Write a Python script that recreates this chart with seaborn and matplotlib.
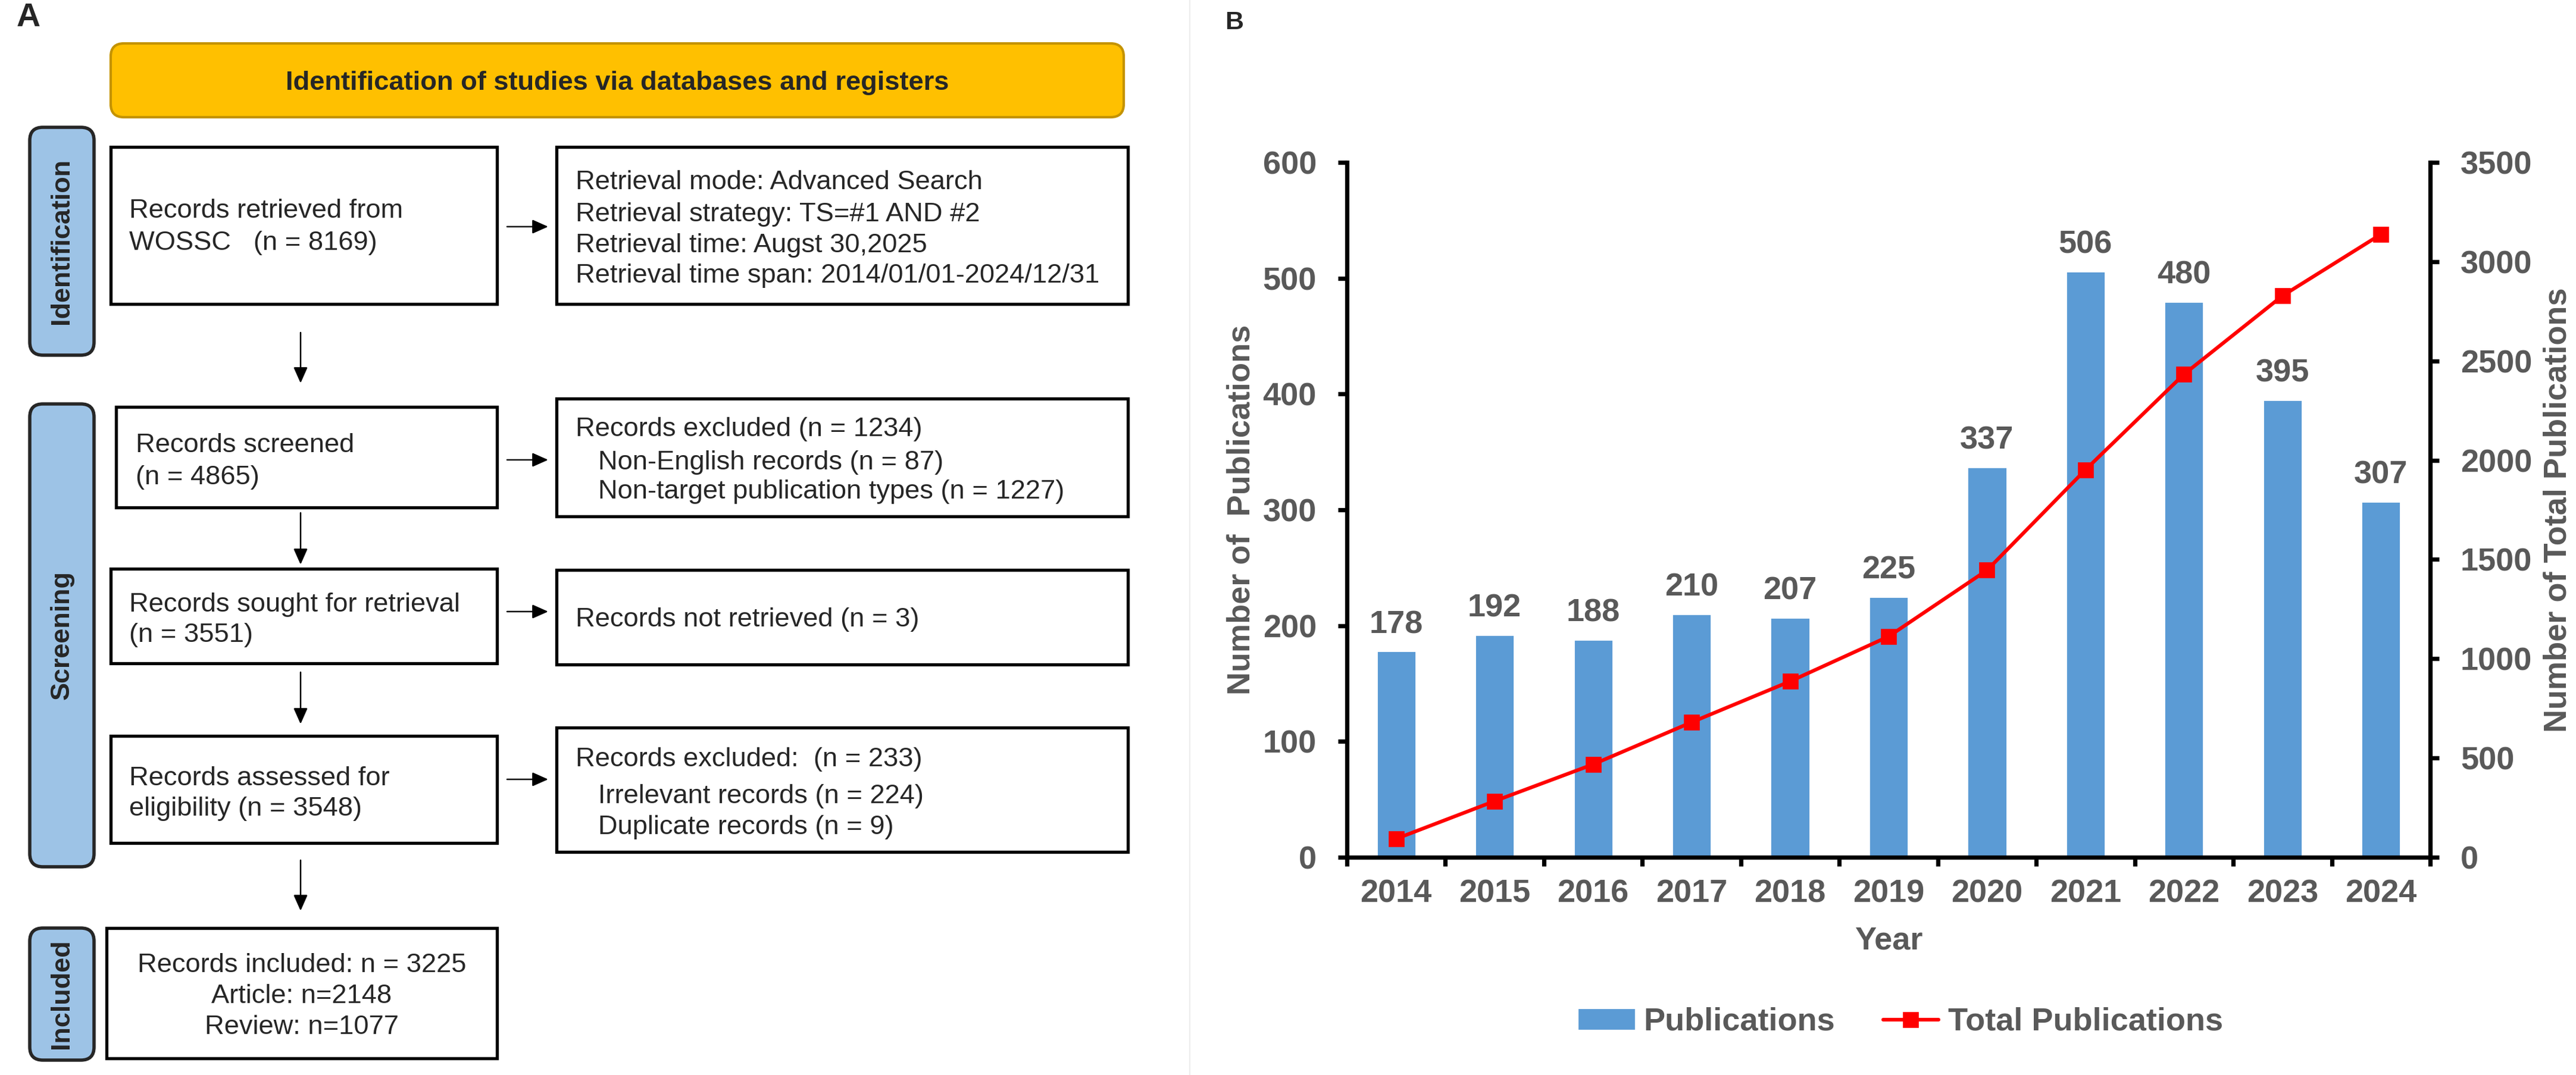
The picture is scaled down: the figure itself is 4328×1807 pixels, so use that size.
import numpy as np
import pandas as pd
import matplotlib
matplotlib.use("Agg")
import matplotlib.pyplot as plt
from matplotlib.patches import FancyBboxPatch, Rectangle, Patch
from matplotlib.lines import Line2D
import seaborn as sns

# ---- Panel B data ----
years = ["2014", "2015", "2016", "2017", "2018", "2019", "2020", "2021", "2022", "2023", "2024"]
publications = [178, 192, 188, 210, 207, 225, 337, 506, 480, 395, 307]
total_publications = [93, 283, 468, 680, 886, 1112, 1446, 1952, 2433, 2828, 3138]

# ---- Panel A text ----
header_text = "Identification of studies via databases and registers"
stage_labels = ["Identification", "Screening", "Included"]
left_box_lines = [
    ["Records retrieved from", "WOSSC   (n = 8169)"],
    ["Records screened", "(n = 4865)"],
    ["Records sought for retrieval", "(n = 3551)"],
    ["Records assessed for", "eligibility (n = 3548)"],
    ["Records included: n = 3225", "Article: n=2148", "Review: n=1077"],
]
right_box_lines = [
    ["Retrieval mode: Advanced Search", "Retrieval strategy: TS=#1 AND #2",
     "Retrieval time: Augst 30,2025", "Retrieval time span: 2014/01/01-2024/12/31"],
    ["Records excluded (n = 1234)", "   Non-English records (n = 87)",
     "   Non-target publication types (n = 1227)"],
    ["Records not retrieved (n = 3)"],
    ["Records excluded:  (n = 233)", "   Irrelevant records (n = 224)",
     "   Duplicate records (n = 9)"],
]

sns.set_style("white")
plt.rcParams["font.family"] = ["Liberation Sans", "DejaVu Sans"]

W, H = 4328, 1807
fig = plt.figure(figsize=(W / 200, H / 200), dpi=200)

# ---------------- Panel A: flow chart (pixel coordinates) ----------------
ax0 = fig.add_axes([0, 0, 1, 1])
ax0.set_xlim(0, W)
ax0.set_ylim(H, 0)
ax0.axis("off")

txt = 16.3
ax0.text(28, 30, "A", fontsize=20, fontweight="bold", va="center", ha="left")
ax0.text(2058, 38, "B", fontsize=15.5, fontweight="bold", va="center", ha="left")
ax0.plot([1999, 1999], [0, H], color="#EDEDED", lw=0.8)

ax0.add_patch(FancyBboxPatch((186, 73), 1702, 124, boxstyle="round,pad=0,rounding_size=22",
                             fc="#FFC000", ec="#C49300", lw=1.5))
ax0.text(1037, 135, header_text, fontsize=txt, fontweight="bold", ha="center", va="center_baseline")

side_spans = [(214, 597), (679, 1457), (1560, 1782)]
for label, (y0, y1) in zip(stage_labels, side_spans):
    ax0.add_patch(FancyBboxPatch((50, y0), 108, y1 - y0, boxstyle="round,pad=0,rounding_size=22",
                                 fc="#9DC3E6", ec="#262626", lw=2))
    ax0.text(104, (y0 + y1) / 2, label, rotation=90, ha="center", va="center",
             fontsize=16.2, fontweight="bold")

left_geo = [
    ((186, 247, 835, 511), 217, [350, 404]),
    ((195, 684, 835, 853), 228, [744, 798]),
    ((186, 956, 835, 1115), 217, [1012, 1063]),
    ((186, 1237, 835, 1417), 217, [1304, 1355]),
    ((179, 1560, 835, 1779), None, [1618, 1670, 1722]),
]
for lines, ((x0, y0, x1, y1), tx, ys) in zip(left_box_lines, left_geo):
    ax0.add_patch(Rectangle((x0, y0), x1 - x0, y1 - y0, fill=False, ec="black", lw=1.9))
    for s, y in zip(lines, ys):
        if tx is None:
            ax0.text((x0 + x1) / 2, y, s, fontsize=txt, ha="center", va="center_baseline")
        else:
            ax0.text(tx, y, s, fontsize=txt, ha="left", va="center_baseline")

right_geo = [
    ((935, 247, 1895, 511), [302, 356, 408, 459]),
    ((935, 670, 1895, 868), [717, 773, 822]),
    ((935, 958, 1895, 1117), [1037]),
    ((935, 1223, 1895, 1432), [1272, 1334, 1386]),
]
for lines, ((x0, y0, x1, y1), ys) in zip(right_box_lines, right_geo):
    ax0.add_patch(Rectangle((x0, y0), x1 - x0, y1 - y0, fill=False, ec="black", lw=1.9))
    for s, y in zip(lines, ys):
        ax0.text(967, y, s, fontsize=txt, ha="left", va="center_baseline")

arrow = dict(arrowstyle="-|>,head_length=0.45,head_width=0.2", color="black", lw=0.9,
             mutation_scale=18, shrinkA=0, shrinkB=0)
for y in [381, 773, 1028, 1310]:
    ax0.annotate("", xy=(921, y), xytext=(852, y), arrowprops=arrow)
for y0, y1 in [(559, 644), (862, 949), (1130, 1217), (1446, 1531)]:
    ax0.annotate("", xy=(505, y1), xytext=(505, y0), arrowprops=arrow)

# ---------------- Panel B: bar + cumulative line ----------------
gray = "#595959"
bar_color = "#5B9BD5"
df = pd.DataFrame({"Year": years, "Publications": publications, "Total": total_publications})

ax = fig.add_axes([2263 / W, 1 - 1441 / H, 1820 / W, 1168 / H])
sns.barplot(data=df, x="Year", y="Publications", color=bar_color, saturation=1, width=0.4, ax=ax)
ax.bar_label(ax.containers[0], padding=7, fontsize=19.5, fontweight="bold", color=gray)

ax2 = ax.twinx()
sns.lineplot(x=np.arange(len(years)), y=df["Total"], ax=ax2, color="red", linewidth=2.2,
             marker="s", markersize=9, markeredgecolor="red", markeredgewidth=0.6)

ax.set_xlim(-0.5, len(years) - 0.5)
ax.set_ylim(0, 600)
ax.set_yticks(range(0, 601, 100))
ax2.set_ylim(0, 3500)
ax2.set_yticks(range(0, 3501, 500))
ax.set_xticks(np.arange(-0.5, len(years), 1), minor=True)

for a in (ax, ax2):
    a.patch.set_alpha(0)
    for sp in a.spines.values():
        sp.set_visible(False)
        sp.set_linewidth(2.6)
        sp.set_color("black")
ax.spines["left"].set_visible(True)
ax.spines["bottom"].set_visible(True)
ax2.spines["right"].set_visible(True)

ax.tick_params(axis="x", which="major", bottom=True, length=0, pad=13,
               labelsize=19.5, labelcolor=gray)
ax.tick_params(axis="x", which="minor", bottom=True, length=5.4, width=2.6, color="black")
ax.tick_params(axis="y", left=True, length=5.4, width=2.6, color="black", pad=13,
               labelsize=19.5, labelcolor=gray)
ax2.tick_params(axis="y", right=True, length=5.4, width=2.6, color="black", pad=13,
                labelsize=19.5, labelcolor=gray)
for lab in ax.get_xticklabels() + ax.get_yticklabels() + ax2.get_yticklabels():
    lab.set_fontweight("bold")

ax.set_xlabel("Year", fontsize=19.5, fontweight="bold", color=gray)
ax.set_ylabel("Number of  Publications", fontsize=19.5, fontweight="bold", color=gray)
ax2.set_ylabel("Number of Total Publications", fontsize=19.5, fontweight="bold", color=gray)
ax.xaxis.set_label_coords(0.5, -0.099)
ax.yaxis.set_label_coords(-0.084, 0.5)
ax2.yaxis.set_label_coords(1.104, 0.5)

handles = [Patch(color=bar_color, label="Publications"),
           Line2D([], [], color="red", lw=2.2, marker="s", markersize=9,
                  markeredgewidth=0.6, label="Total Publications")]
ax.legend(handles=handles, loc="center", bbox_to_anchor=(3194 / W, 1 - 1718 / H),
          bbox_transform=fig.transFigure, ncol=2, frameon=False,
          prop=dict(weight="bold", size=19.5), labelcolor=gray,
          handlelength=1.7, handleheight=0.55, handletextpad=0.3, columnspacing=1.5)

fig.savefig("out.png", dpi=200, facecolor="white")
